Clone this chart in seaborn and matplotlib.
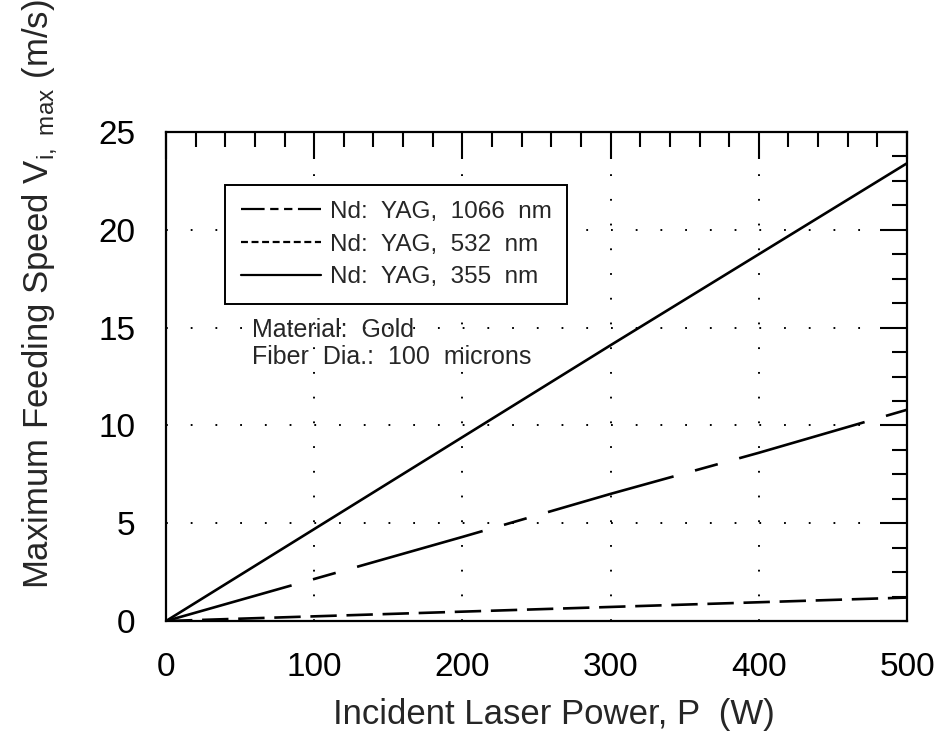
import numpy as np
import pandas as pd
import seaborn as sns
import matplotlib
matplotlib.use("Agg")
import matplotlib.pyplot as plt
from matplotlib.ticker import MultipleLocator
from matplotlib.lines import Line2D

# values
power = [0, 100, 200, 300, 400, 500]
v_1066 = [0, 2.15, 4.3, 6.5, 8.6, 10.8]
v_532 = [0, 0.24, 0.48, 0.72, 0.96, 1.2]
v_355 = [0, 4.7, 9.4, 14.1, 18.75, 23.4]
labels = ["Nd:  YAG,  1066  nm", "Nd:  YAG,  532  nm", "Nd:  YAG,  355  nm"]

sns.set_style("white")
plt.rcParams["font.family"] = ["Liberation Sans", "DejaVu Sans"]
plt.rcParams["mathtext.fontset"] = "custom"
plt.rcParams["mathtext.rm"] = "Liberation Sans"
plt.rcParams["lines.scale_dashes"] = False

fig = plt.figure(figsize=(9.4, 7.36), dpi=100)
ax = fig.add_axes([0.1766, 0.1562, 0.7883, 0.6645])

plot_dashes = [(94, 16, 17, 16), (19, 7), None]
legend_dashes = [(17, 4, 6, 4, 6, 4), (5, 2.6), None]
handles = []
for vals, lab, ds, lds in zip([v_1066, v_532, v_355], labels, plot_dashes, legend_dashes):
    sns.lineplot(x=power, y=vals, ax=ax, color="black", lw=1.9, legend=False)
    if ds is not None:
        ax.lines[-1].set_dashes(ds)
    h = Line2D([], [], color="black", lw=1.6)
    if lds is not None:
        h.set_dashes(lds)
    handles.append(h)

ax.set_xlim(0, 500)
ax.set_ylim(0, 25)
ax.xaxis.set_major_locator(MultipleLocator(100))
ax.xaxis.set_minor_locator(MultipleLocator(20))
ax.yaxis.set_major_locator(MultipleLocator(5))
ax.yaxis.set_minor_locator(MultipleLocator(1.25))

ax.grid(True, which="major", color="black", linestyle=(0, (1.3, 16.5)), lw=1.4)
ax.tick_params(which="both", direction="in", top=True, right=True, colors="black")
ax.tick_params(which="major", length=19.5, width=1.5, pad=22, labelsize=24)
ax.tick_params(which="minor", length=10.5, width=1.5)
for sp in ax.spines.values():
    sp.set_visible(True)
    sp.set_color("black")
    sp.set_linewidth(1.6)

ax.set_xlabel("Incident Laser Power, P  (W)", fontsize=25)
ax.xaxis.set_label_coords(0.523, -0.158)
ax.set_ylabel(r"Maximum Feeding Speed V$_{\mathregular{i,\ max}}$ (m/s)", fontsize=25)
ax.yaxis.set_label_coords(-0.145, 0.668)

ax.text(0.116, 0.62, "Material:  Gold\nFiber  Dia.:  100  microns", transform=ax.transAxes,
        fontsize=18, va="top", ha="left", linespacing=1.15)

leg = ax.legend(handles, labels, loc="upper left", bbox_to_anchor=(0.0796, 0.8916),
                fontsize=17.5, frameon=True, fancybox=False, shadow=False, borderpad=0.65,
                handlelength=3.3, handletextpad=0.35, labelspacing=0.44, borderaxespad=0)
leg.get_frame().set_edgecolor("black")
leg.get_frame().set_linewidth(1.4)
leg.get_frame().set_alpha(1)

fig.savefig("out.png", dpi=100)
